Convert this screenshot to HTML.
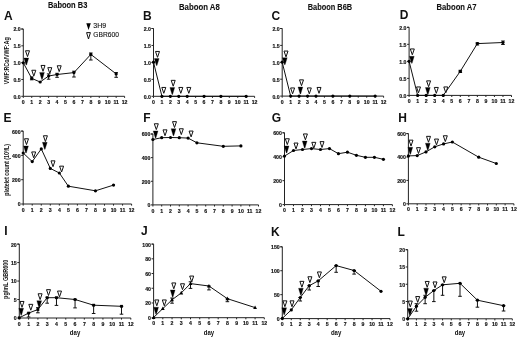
<!DOCTYPE html>
<html><head><meta charset="utf-8"><style>
html,body{margin:0;padding:0;background:#fff;}
body{width:520px;height:339px;overflow:hidden;}
svg{display:block;will-change:transform;}
text{font-family:"Liberation Sans", sans-serif;fill:#111;}
.ax{fill:none;stroke:#222;stroke-width:1.0;}
.dl{fill:none;stroke:#111;stroke-width:1.0;stroke-linejoin:round;}
.eb{fill:none;stroke:#111;stroke-width:1.0;}
.ot{fill:#fff;stroke:#111;stroke-width:1.0;stroke-linejoin:miter;}
.oi{fill:none;stroke:#555;stroke-width:0.5;}
.ft{stroke:#111;stroke-width:0.3;}
.yl{font-size:5.2px;font-weight:bold;text-anchor:end;stroke:#111;stroke-width:0.15;}
.xl{font-size:5.2px;font-weight:bold;text-anchor:middle;stroke:#111;stroke-width:0.15;}
.day{font-size:6.6px;font-weight:bold;}
.lg{font-size:7px;stroke:#111;stroke-width:0.12;}
.pl{font-size:12px;font-weight:bold;}
.ti{font-size:8.4px;font-weight:bold;stroke:#111;stroke-width:0.1;}
.ya{font-size:6.6px;font-weight:bold;}
</style></head><body>
<svg width="520" height="339" viewBox="0 0 520 339">
<path d="M23.3 29H21.3M23.3 29V96.3H124.6V97.9" class="ax"/>
<path d="M21.3 96.3H23.3M21.3 79.47H23.3M21.3 62.65H23.3M21.3 45.83H23.3M21.3 29H23.3M23.3 96.3V97.9M31.74 96.3V97.9M40.18 96.3V97.9M48.62 96.3V97.9M57.07 96.3V97.9M65.51 96.3V97.9M73.95 96.3V97.9M82.39 96.3V97.9M90.83 96.3V97.9M99.27 96.3V97.9M107.72 96.3V97.9M116.16 96.3V97.9" class="ax"/>
<text x="20.7" y="98.7" class="yl">0.0</text>
<text x="20.7" y="81.88" class="yl">0.5</text>
<text x="20.7" y="65.05" class="yl">1.0</text>
<text x="20.7" y="48.23" class="yl">1.5</text>
<text x="20.7" y="31.4" class="yl">2.0</text>
<text x="23.3" y="103.9" class="xl">0</text>
<text x="31.74" y="103.9" class="xl">1</text>
<text x="40.18" y="103.9" class="xl">2</text>
<text x="48.62" y="103.9" class="xl">3</text>
<text x="57.07" y="103.9" class="xl">4</text>
<text x="65.51" y="103.9" class="xl">5</text>
<text x="73.95" y="103.9" class="xl">6</text>
<text x="82.39" y="103.9" class="xl">7</text>
<text x="90.83" y="103.9" class="xl">8</text>
<text x="99.27" y="103.9" class="xl">9</text>
<text x="107.72" y="103.9" class="xl">10</text>
<text x="116.16" y="103.9" class="xl">11</text>
<text x="124.6" y="103.9" class="xl">12</text>
<polyline points="23.3,62.8 31.74,78.4 40.18,82 48.62,76 57.07,74.5 73.95,72.6 90.83,54.4 116.16,73.9" class="dl"/>
<path d="M31.74 76.9V79.8M29.94 79.8H33.54M29.94 76.9H33.54M48.62 73.9V79.2M46.83 79.2H50.42M46.83 73.9H50.42M57.07 73.3V77.3M55.27 77.3H58.87M55.27 73.3H58.87M73.95 71.2V77M72.15 77H75.75M72.15 71.2H75.75M90.83 53V60M89.03 60H92.63M89.03 53H92.63M116.16 72.6V77.3M114.36 77.3H117.96M114.36 72.6H117.96" class="eb"/>
<circle cx="23.3" cy="62.8" r="1.6"/>
<circle cx="31.74" cy="78.4" r="1.6"/>
<circle cx="40.18" cy="82" r="1.6"/>
<circle cx="48.62" cy="76" r="1.6"/>
<circle cx="57.07" cy="74.5" r="1.6"/>
<circle cx="73.95" cy="72.6" r="1.6"/>
<circle cx="90.83" cy="54.4" r="1.6"/>
<circle cx="116.16" cy="73.9" r="1.6"/>
<path d="M25.5 50.75H29.5L27.5 56.6Z" class="ot"/>
<path d="M31.8 70.25H35.8L33.8 76.1Z" class="ot"/>
<path d="M41 65.45H45L43 71.3Z" class="ot"/>
<path d="M47.8 67.65H51.8L49.8 73.5Z" class="ot"/>
<path d="M57.2 65.75H61.2L59.2 71.6Z" class="ot"/>
<path d="M23.9 58H28.7L26.6 65H26Z" class="ft"/>
<path d="M39.6 72.4H44.4L42.3 79.4H41.7Z" class="ft"/>
<path d="M153.5 28.5H151.5M153.5 28.5V96.3H254.6V97.9" class="ax"/>
<path d="M151.5 96.3H153.5M151.5 79.35H153.5M151.5 62.4H153.5M151.5 45.45H153.5M151.5 28.5H153.5M153.5 96.3V97.9M161.93 96.3V97.9M170.35 96.3V97.9M178.78 96.3V97.9M187.2 96.3V97.9M195.62 96.3V97.9M204.05 96.3V97.9M212.47 96.3V97.9M220.9 96.3V97.9M229.32 96.3V97.9M237.75 96.3V97.9M246.17 96.3V97.9" class="ax"/>
<text x="150.9" y="98.7" class="yl">0.0</text>
<text x="150.9" y="81.75" class="yl">0.5</text>
<text x="150.9" y="64.8" class="yl">1.0</text>
<text x="150.9" y="47.85" class="yl">1.5</text>
<text x="150.9" y="30.9" class="yl">2.0</text>
<text x="153.5" y="103.9" class="xl">0</text>
<text x="161.93" y="103.9" class="xl">1</text>
<text x="170.35" y="103.9" class="xl">2</text>
<text x="178.78" y="103.9" class="xl">3</text>
<text x="187.2" y="103.9" class="xl">4</text>
<text x="195.62" y="103.9" class="xl">5</text>
<text x="204.05" y="103.9" class="xl">6</text>
<text x="212.47" y="103.9" class="xl">7</text>
<text x="220.9" y="103.9" class="xl">8</text>
<text x="229.32" y="103.9" class="xl">9</text>
<text x="237.75" y="103.9" class="xl">10</text>
<text x="246.17" y="103.9" class="xl">11</text>
<text x="254.6" y="103.9" class="xl">12</text>
<polyline points="153.5,62.2 161.93,96.3 170.35,96.3 178.78,96.3 187.2,96.3 204.05,96.3 220.9,96.3 246.17,96.3" class="dl"/>
<circle cx="153.5" cy="62.2" r="1.6"/>
<circle cx="161.93" cy="96.3" r="1.6"/>
<circle cx="170.35" cy="96.3" r="1.6"/>
<circle cx="178.78" cy="96.3" r="1.6"/>
<circle cx="187.2" cy="96.3" r="1.6"/>
<circle cx="204.05" cy="96.3" r="1.6"/>
<circle cx="220.9" cy="96.3" r="1.6"/>
<circle cx="246.17" cy="96.3" r="1.6"/>
<path d="M155.5 51.45H159.5L157.5 57.3Z" class="ot"/>
<path d="M161.8 87.45H165.8L163.8 93.3Z" class="ot"/>
<path d="M171.2 80.35H175.2L173.2 86.2Z" class="ot"/>
<path d="M178.8 87.45H182.8L180.8 93.3Z" class="ot"/>
<path d="M186.8 87.45H190.8L188.8 93.3Z" class="ot"/>
<path d="M154.3 58.6H159.1L157 65.6H156.4Z" class="ft"/>
<path d="M169.9 87.5H174.7L172.6 94.5H172Z" class="ft"/>
<path d="M282.2 28.5H280.2M282.2 28.5V96.1H383.6V97.7" class="ax"/>
<path d="M280.2 96.1H282.2M280.2 79.2H282.2M280.2 62.3H282.2M280.2 45.4H282.2M280.2 28.5H282.2M282.2 96.1V97.7M290.65 96.1V97.7M299.1 96.1V97.7M307.55 96.1V97.7M316 96.1V97.7M324.45 96.1V97.7M332.9 96.1V97.7M341.35 96.1V97.7M349.8 96.1V97.7M358.25 96.1V97.7M366.7 96.1V97.7M375.15 96.1V97.7" class="ax"/>
<text x="279.6" y="98.5" class="yl">0.0</text>
<text x="279.6" y="81.6" class="yl">0.5</text>
<text x="279.6" y="64.7" class="yl">1.0</text>
<text x="279.6" y="47.8" class="yl">1.5</text>
<text x="279.6" y="30.9" class="yl">2.0</text>
<text x="282.2" y="103.7" class="xl">0</text>
<text x="290.65" y="103.7" class="xl">1</text>
<text x="299.1" y="103.7" class="xl">2</text>
<text x="307.55" y="103.7" class="xl">3</text>
<text x="316" y="103.7" class="xl">4</text>
<text x="324.45" y="103.7" class="xl">5</text>
<text x="332.9" y="103.7" class="xl">6</text>
<text x="341.35" y="103.7" class="xl">7</text>
<text x="349.8" y="103.7" class="xl">8</text>
<text x="358.25" y="103.7" class="xl">9</text>
<text x="366.7" y="103.7" class="xl">10</text>
<text x="375.15" y="103.7" class="xl">11</text>
<text x="383.6" y="103.7" class="xl">12</text>
<polyline points="282.2,62.2 290.65,96.1 299.1,96.1 307.55,96.1 316,96.1 332.9,96.1 349.8,96.1 375.15,96.1" class="dl"/>
<circle cx="282.2" cy="62.2" r="1.6"/>
<circle cx="290.65" cy="96.1" r="1.6"/>
<circle cx="299.1" cy="96.1" r="1.6"/>
<circle cx="307.55" cy="96.1" r="1.6"/>
<circle cx="316" cy="96.1" r="1.6"/>
<circle cx="332.9" cy="96.1" r="1.6"/>
<circle cx="349.8" cy="96.1" r="1.6"/>
<circle cx="375.15" cy="96.1" r="1.6"/>
<path d="M284 51.05H288L286 56.9Z" class="ot"/>
<path d="M290.6 87.95H294.6L292.6 93.8Z" class="ot"/>
<path d="M299.5 79.85H303.5L301.5 85.7Z" class="ot"/>
<path d="M307.3 87.95H311.3L309.3 93.8Z" class="ot"/>
<path d="M317 87.45H321L319 93.3Z" class="ot"/>
<path d="M282.4 57.7H287.2L285.1 64.7H284.5Z" class="ft"/>
<path d="M298 87H302.8L300.7 94H300.1Z" class="ft"/>
<path d="M409.1 27.3H407.1M409.1 27.3V95.4H511.5V97" class="ax"/>
<path d="M407.1 95.4H409.1M407.1 78.38H409.1M407.1 61.35H409.1M407.1 44.33H409.1M407.1 27.3H409.1M409.1 95.4V97M417.63 95.4V97M426.17 95.4V97M434.7 95.4V97M443.23 95.4V97M451.77 95.4V97M460.3 95.4V97M468.83 95.4V97M477.37 95.4V97M485.9 95.4V97M494.43 95.4V97M502.97 95.4V97" class="ax"/>
<text x="406.5" y="97.8" class="yl">0.0</text>
<text x="406.5" y="80.78" class="yl">0.5</text>
<text x="406.5" y="63.75" class="yl">1.0</text>
<text x="406.5" y="46.73" class="yl">1.5</text>
<text x="406.5" y="29.7" class="yl">2.0</text>
<text x="409.1" y="103" class="xl">0</text>
<text x="417.63" y="103" class="xl">1</text>
<text x="426.17" y="103" class="xl">2</text>
<text x="434.7" y="103" class="xl">3</text>
<text x="443.23" y="103" class="xl">4</text>
<text x="451.77" y="103" class="xl">5</text>
<text x="460.3" y="103" class="xl">6</text>
<text x="468.83" y="103" class="xl">7</text>
<text x="477.37" y="103" class="xl">8</text>
<text x="485.9" y="103" class="xl">9</text>
<text x="494.43" y="103" class="xl">10</text>
<text x="502.97" y="103" class="xl">11</text>
<text x="511.5" y="103" class="xl">12</text>
<polyline points="409.1,61.3 417.63,95.4 426.17,95.4 434.7,95.4 443.23,95.4 460.3,71.3 477.37,43.6 502.97,42.5" class="dl"/>
<path d="M460.3 70.3V72.5M458.5 72.5H462.1M458.5 70.3H462.1M477.37 42.8V45M475.57 45H479.17M475.57 42.8H479.17M502.97 41V44.5M501.17 44.5H504.77M501.17 41H504.77" class="eb"/>
<circle cx="409.1" cy="61.3" r="1.6"/>
<circle cx="417.63" cy="95.4" r="1.6"/>
<circle cx="426.17" cy="95.4" r="1.6"/>
<circle cx="434.7" cy="95.4" r="1.6"/>
<circle cx="443.23" cy="95.4" r="1.6"/>
<circle cx="460.3" cy="71.3" r="1.6"/>
<circle cx="477.37" cy="43.6" r="1.6"/>
<circle cx="502.97" cy="42.5" r="1.6"/>
<path d="M410.3 48.95H414.3L412.3 54.8Z" class="ot"/>
<path d="M416.5 86.95H420.5L418.5 92.8Z" class="ot"/>
<path d="M426.6 80.85H430.6L428.6 86.7Z" class="ot"/>
<path d="M434.3 87.45H438.3L436.3 93.3Z" class="ot"/>
<path d="M443.8 86.95H447.8L445.8 92.8Z" class="ot"/>
<path d="M409.4 56.3H414.2L412.1 63.3H411.5Z" class="ft"/>
<path d="M425.4 87.5H430.2L428.1 94.5H427.5Z" class="ft"/>
<path d="M23.2 131.1H21.2M23.2 131.1V204H131.6V205.6" class="ax"/>
<path d="M21.2 204H23.2M21.2 179.7H23.2M21.2 155.4H23.2M21.2 131.1H23.2M23.2 204V205.6M32.23 204V205.6M41.27 204V205.6M50.3 204V205.6M59.33 204V205.6M68.37 204V205.6M77.4 204V205.6M86.43 204V205.6M95.47 204V205.6M104.5 204V205.6M113.53 204V205.6M122.57 204V205.6" class="ax"/>
<text x="20.6" y="206.4" class="yl">0</text>
<text x="20.6" y="182.1" class="yl">200</text>
<text x="20.6" y="157.8" class="yl">400</text>
<text x="20.6" y="133.5" class="yl">600</text>
<text x="23.2" y="211.6" class="xl">0</text>
<text x="32.23" y="211.6" class="xl">1</text>
<text x="41.27" y="211.6" class="xl">2</text>
<text x="50.3" y="211.6" class="xl">3</text>
<text x="59.33" y="211.6" class="xl">4</text>
<text x="68.37" y="211.6" class="xl">5</text>
<text x="77.4" y="211.6" class="xl">6</text>
<text x="86.43" y="211.6" class="xl">7</text>
<text x="95.47" y="211.6" class="xl">8</text>
<text x="104.5" y="211.6" class="xl">9</text>
<text x="113.53" y="211.6" class="xl">10</text>
<text x="122.57" y="211.6" class="xl">11</text>
<text x="131.6" y="211.6" class="xl">12</text>
<polyline points="23.2,153 32.23,161.6 41.27,148.9 50.3,168.4 59.33,173 68.37,186.2 95.47,190.8 113.53,185.1" class="dl"/>
<circle cx="23.2" cy="153" r="1.6"/>
<circle cx="32.23" cy="161.6" r="1.6"/>
<circle cx="41.27" cy="148.9" r="1.6"/>
<circle cx="50.3" cy="168.4" r="1.6"/>
<circle cx="59.33" cy="173" r="1.6"/>
<circle cx="68.37" cy="186.2" r="1.6"/>
<circle cx="95.47" cy="190.8" r="1.6"/>
<circle cx="113.53" cy="185.1" r="1.6"/>
<path d="M24.5 138.75H28.5L26.5 144.6Z" class="ot"/>
<path d="M31.7 151.95H35.7L33.7 157.8Z" class="ot"/>
<path d="M43.4 135.75H47.4L45.4 141.6Z" class="ot"/>
<path d="M51 160.85H55L53 166.7Z" class="ot"/>
<path d="M59.6 166.15H63.6L61.6 172Z" class="ot"/>
<path d="M23.6 145.9H28.4L26.3 152.9H25.7Z" class="ft"/>
<path d="M42.4 142.3H47.2L45.1 149.3H44.5Z" class="ft"/>
<path d="M152.9 134H150.9M152.9 134V204.9H258.5V206.5" class="ax"/>
<path d="M150.9 204.9H152.9M150.9 181.27H152.9M150.9 157.63H152.9M150.9 134H152.9M152.9 204.9V206.5M161.7 204.9V206.5M170.5 204.9V206.5M179.3 204.9V206.5M188.1 204.9V206.5M196.9 204.9V206.5M205.7 204.9V206.5M214.5 204.9V206.5M223.3 204.9V206.5M232.1 204.9V206.5M240.9 204.9V206.5M249.7 204.9V206.5" class="ax"/>
<text x="150.3" y="207.3" class="yl">0</text>
<text x="150.3" y="183.67" class="yl">200</text>
<text x="150.3" y="160.03" class="yl">400</text>
<text x="150.3" y="136.4" class="yl">600</text>
<text x="152.9" y="212.5" class="xl">0</text>
<text x="161.7" y="212.5" class="xl">1</text>
<text x="170.5" y="212.5" class="xl">2</text>
<text x="179.3" y="212.5" class="xl">3</text>
<text x="188.1" y="212.5" class="xl">4</text>
<text x="196.9" y="212.5" class="xl">5</text>
<text x="205.7" y="212.5" class="xl">6</text>
<text x="214.5" y="212.5" class="xl">7</text>
<text x="223.3" y="212.5" class="xl">8</text>
<text x="232.1" y="212.5" class="xl">9</text>
<text x="240.9" y="212.5" class="xl">10</text>
<text x="249.7" y="212.5" class="xl">11</text>
<text x="258.5" y="212.5" class="xl">12</text>
<polyline points="152.9,139.5 161.7,137.7 170.5,137.5 179.3,137.7 188.1,138.1 196.9,142.8 223.3,146.3 240.9,145.9" class="dl"/>
<circle cx="152.9" cy="139.5" r="1.6"/>
<circle cx="161.7" cy="137.7" r="1.6"/>
<circle cx="170.5" cy="137.5" r="1.6"/>
<circle cx="179.3" cy="137.7" r="1.6"/>
<circle cx="188.1" cy="138.1" r="1.6"/>
<circle cx="196.9" cy="142.8" r="1.6"/>
<circle cx="223.3" cy="146.3" r="1.6"/>
<circle cx="240.9" cy="145.9" r="1.6"/>
<path d="M154.3 123.75H158.3L156.3 129.6Z" class="ot"/>
<path d="M163 129.85H167L165 135.7Z" class="ot"/>
<path d="M172.5 121.65H176.5L174.5 127.5Z" class="ot"/>
<path d="M179.3 128.75H183.3L181.3 134.6Z" class="ot"/>
<path d="M189.1 131.05H193.1L191.1 136.9Z" class="ot"/>
<path d="M153.2 130.9H158L155.9 137.9H155.3Z" class="ft"/>
<path d="M171.1 128.7H175.9L173.8 135.7H173.2Z" class="ft"/>
<path d="M284.5 132.8H282.5M284.5 132.8V204.6H392.4V206.2" class="ax"/>
<path d="M282.5 204.6H284.5M282.5 180.67H284.5M282.5 156.73H284.5M282.5 132.8H284.5M284.5 204.6V206.2M293.49 204.6V206.2M302.48 204.6V206.2M311.48 204.6V206.2M320.47 204.6V206.2M329.46 204.6V206.2M338.45 204.6V206.2M347.44 204.6V206.2M356.43 204.6V206.2M365.42 204.6V206.2M374.42 204.6V206.2M383.41 204.6V206.2" class="ax"/>
<text x="281.9" y="207" class="yl">0</text>
<text x="281.9" y="183.07" class="yl">200</text>
<text x="281.9" y="159.13" class="yl">400</text>
<text x="281.9" y="135.2" class="yl">600</text>
<text x="284.5" y="212.2" class="xl">0</text>
<text x="293.49" y="212.2" class="xl">1</text>
<text x="302.48" y="212.2" class="xl">2</text>
<text x="311.48" y="212.2" class="xl">3</text>
<text x="320.47" y="212.2" class="xl">4</text>
<text x="329.46" y="212.2" class="xl">5</text>
<text x="338.45" y="212.2" class="xl">6</text>
<text x="347.44" y="212.2" class="xl">7</text>
<text x="356.43" y="212.2" class="xl">8</text>
<text x="365.42" y="212.2" class="xl">9</text>
<text x="374.42" y="212.2" class="xl">10</text>
<text x="383.41" y="212.2" class="xl">11</text>
<text x="392.4" y="212.2" class="xl">12</text>
<polyline points="284.5,156.1 293.49,150.5 302.48,149.5 311.48,148.6 320.47,149.5 329.46,148.6 338.45,153.7 347.44,152.2 356.43,155.3 365.42,157.3 374.42,157.3 383.41,159.3" class="dl"/>
<circle cx="284.5" cy="156.1" r="1.6"/>
<circle cx="293.49" cy="150.5" r="1.6"/>
<circle cx="302.48" cy="149.5" r="1.6"/>
<circle cx="311.48" cy="148.6" r="1.6"/>
<circle cx="320.47" cy="149.5" r="1.6"/>
<circle cx="329.46" cy="148.6" r="1.6"/>
<circle cx="338.45" cy="153.7" r="1.6"/>
<circle cx="347.44" cy="152.2" r="1.6"/>
<circle cx="356.43" cy="155.3" r="1.6"/>
<circle cx="365.42" cy="157.3" r="1.6"/>
<circle cx="374.42" cy="157.3" r="1.6"/>
<circle cx="383.41" cy="159.3" r="1.6"/>
<path d="M285.3 138.75H289.3L287.3 144.6Z" class="ot"/>
<path d="M294 143.05H298L296 148.9Z" class="ot"/>
<path d="M303.4 133.95H307.4L305.4 139.8Z" class="ot"/>
<path d="M311.8 142.35H315.8L313.8 148.2Z" class="ot"/>
<path d="M320 141.65H324L322 147.5Z" class="ot"/>
<path d="M284.2 145.9H289L286.9 152.9H286.3Z" class="ft"/>
<path d="M302.3 141H307.1L305 148H304.4Z" class="ft"/>
<path d="M408.4 133.6H406.4M408.4 133.6V203.8H513.9V205.4" class="ax"/>
<path d="M406.4 203.8H408.4M406.4 180.4H408.4M406.4 157H408.4M406.4 133.6H408.4M408.4 203.8V205.4M417.19 203.8V205.4M425.98 203.8V205.4M434.77 203.8V205.4M443.57 203.8V205.4M452.36 203.8V205.4M461.15 203.8V205.4M469.94 203.8V205.4M478.73 203.8V205.4M487.52 203.8V205.4M496.32 203.8V205.4M505.11 203.8V205.4" class="ax"/>
<text x="405.8" y="206.2" class="yl">0</text>
<text x="405.8" y="182.8" class="yl">200</text>
<text x="405.8" y="159.4" class="yl">400</text>
<text x="405.8" y="136" class="yl">600</text>
<text x="408.4" y="211.4" class="xl">0</text>
<text x="417.19" y="211.4" class="xl">1</text>
<text x="425.98" y="211.4" class="xl">2</text>
<text x="434.77" y="211.4" class="xl">3</text>
<text x="443.57" y="211.4" class="xl">4</text>
<text x="452.36" y="211.4" class="xl">5</text>
<text x="461.15" y="211.4" class="xl">6</text>
<text x="469.94" y="211.4" class="xl">7</text>
<text x="478.73" y="211.4" class="xl">8</text>
<text x="487.52" y="211.4" class="xl">9</text>
<text x="496.32" y="211.4" class="xl">10</text>
<text x="505.11" y="211.4" class="xl">11</text>
<text x="513.9" y="211.4" class="xl">12</text>
<polyline points="408.4,155.9 417.19,155.6 425.98,151.9 434.77,146.8 443.57,143.9 452.36,142 478.73,157.2 496.32,163.5" class="dl"/>
<circle cx="408.4" cy="155.9" r="1.6"/>
<circle cx="417.19" cy="155.6" r="1.6"/>
<circle cx="425.98" cy="151.9" r="1.6"/>
<circle cx="434.77" cy="146.8" r="1.6"/>
<circle cx="443.57" cy="143.9" r="1.6"/>
<circle cx="452.36" cy="142" r="1.6"/>
<circle cx="478.73" cy="157.2" r="1.6"/>
<circle cx="496.32" cy="163.5" r="1.6"/>
<path d="M409 140.15H413L411 146Z" class="ot"/>
<path d="M416.5 147.65H420.5L418.5 153.5Z" class="ot"/>
<path d="M426.5 136.35H430.5L428.5 142.2Z" class="ot"/>
<path d="M434.5 139.05H438.5L436.5 144.9Z" class="ot"/>
<path d="M443.3 135.75H447.3L445.3 141.6Z" class="ot"/>
<path d="M407.9 147.2H412.7L410.6 154.2H410Z" class="ft"/>
<path d="M425.4 143.2H430.2L428.1 150.2H427.5Z" class="ft"/>
<path d="M19.3 244.1H17.3M19.3 244.1V318H130.8V319.6" class="ax"/>
<path d="M17.3 318H19.3M17.3 299.52H19.3M17.3 281.05H19.3M17.3 262.57H19.3M17.3 244.1H19.3M19.3 318V319.6M28.59 318V319.6M37.88 318V319.6M47.18 318V319.6M56.47 318V319.6M65.76 318V319.6M75.05 318V319.6M84.34 318V319.6M93.63 318V319.6M102.93 318V319.6M112.22 318V319.6M121.51 318V319.6" class="ax"/>
<text x="16.7" y="320.4" class="yl">0</text>
<text x="16.7" y="301.92" class="yl">5</text>
<text x="16.7" y="283.45" class="yl">10</text>
<text x="16.7" y="264.97" class="yl">15</text>
<text x="16.7" y="246.5" class="yl">20</text>
<text x="19.3" y="325.6" class="xl">0</text>
<text x="28.59" y="325.6" class="xl">1</text>
<text x="37.88" y="325.6" class="xl">2</text>
<text x="47.18" y="325.6" class="xl">3</text>
<text x="56.47" y="325.6" class="xl">4</text>
<text x="65.76" y="325.6" class="xl">5</text>
<text x="75.05" y="325.6" class="xl">6</text>
<text x="84.34" y="325.6" class="xl">7</text>
<text x="93.63" y="325.6" class="xl">8</text>
<text x="102.93" y="325.6" class="xl">9</text>
<text x="112.22" y="325.6" class="xl">10</text>
<text x="121.51" y="325.6" class="xl">11</text>
<text x="130.8" y="325.6" class="xl">12</text>
<polyline points="19.3,317.8 28.59,313.1 37.88,309.5 47.18,297.7 56.47,297.7 75.05,299.5 93.63,305.2 121.51,306.3" class="dl"/>
<path d="M28.59 313.1V317M26.79 317H30.39M26.79 313.1H30.39M37.88 307.6V312.8M36.08 312.8H39.68M36.08 307.6H39.68M47.18 297.3V303.2M45.38 303.2H48.98M45.38 297.3H48.98M56.47 297.3V305.4M54.67 305.4H58.27M54.67 297.3H58.27M75.05 299.5V307.9M73.25 307.9H76.85M73.25 299.5H76.85M93.63 305.2V313.5M91.83 313.5H95.43M91.83 305.2H95.43M121.51 306.3V314.2M119.71 314.2H123.31M119.71 306.3H123.31" class="eb"/>
<rect x="17.9" y="316.4" width="2.8" height="2.8"/>
<rect x="27.19" y="311.7" width="2.8" height="2.8"/>
<rect x="36.48" y="308.1" width="2.8" height="2.8"/>
<rect x="45.78" y="296.3" width="2.8" height="2.8"/>
<rect x="55.07" y="296.3" width="2.8" height="2.8"/>
<rect x="73.65" y="298.1" width="2.8" height="2.8"/>
<rect x="92.23" y="303.8" width="2.8" height="2.8"/>
<rect x="120.11" y="304.9" width="2.8" height="2.8"/>
<path d="M20 301.45H24L22 307.3Z" class="ot"/>
<path d="M28.8 304.35H32.8L30.8 310.2Z" class="ot"/>
<path d="M38.1 293.75H42.1L40.1 299.6Z" class="ot"/>
<path d="M46.5 289.65H50.5L48.5 295.5Z" class="ot"/>
<path d="M57.5 291.05H61.5L59.5 296.9Z" class="ot"/>
<path d="M18.8 308.3H23.6L21.5 315.3H20.9Z" class="ft"/>
<path d="M36.8 300.7H41.6L39.5 307.7H38.9Z" class="ft"/>
<text x="69.85" y="334.6" class="day" textLength="10.4" lengthAdjust="spacingAndGlyphs">day</text>
<path d="M153.6 244.1H151.6M153.6 244.1V317.7H264.3V319.3" class="ax"/>
<path d="M151.6 317.7H153.6M151.6 302.98H153.6M151.6 288.26H153.6M151.6 273.54H153.6M151.6 258.82H153.6M151.6 244.1H153.6M153.6 317.7V319.3M162.82 317.7V319.3M172.05 317.7V319.3M181.28 317.7V319.3M190.5 317.7V319.3M199.72 317.7V319.3M208.95 317.7V319.3M218.18 317.7V319.3M227.4 317.7V319.3M236.62 317.7V319.3M245.85 317.7V319.3M255.08 317.7V319.3" class="ax"/>
<text x="151" y="320.1" class="yl">0</text>
<text x="151" y="305.38" class="yl">20</text>
<text x="151" y="290.66" class="yl">40</text>
<text x="151" y="275.94" class="yl">60</text>
<text x="151" y="261.22" class="yl">80</text>
<text x="151" y="246.5" class="yl">100</text>
<text x="153.6" y="325.3" class="xl">0</text>
<text x="162.82" y="325.3" class="xl">1</text>
<text x="172.05" y="325.3" class="xl">2</text>
<text x="181.28" y="325.3" class="xl">3</text>
<text x="190.5" y="325.3" class="xl">4</text>
<text x="199.72" y="325.3" class="xl">5</text>
<text x="208.95" y="325.3" class="xl">6</text>
<text x="218.18" y="325.3" class="xl">7</text>
<text x="227.4" y="325.3" class="xl">8</text>
<text x="236.62" y="325.3" class="xl">9</text>
<text x="245.85" y="325.3" class="xl">10</text>
<text x="255.08" y="325.3" class="xl">11</text>
<text x="264.3" y="325.3" class="xl">12</text>
<polyline points="153.6,317.5 162.82,308.6 172.05,299.8 181.28,292.9 190.5,283.6 208.95,286 227.4,298.7 255.08,307.6" class="dl"/>
<path d="M172.05 298V303.2M170.25 303.2H173.85M170.25 298H173.85M190.5 281.8V288.4M188.7 288.4H192.3M188.7 281.8H192.3M208.95 286V289.9M207.15 289.9H210.75M207.15 286H210.75M227.4 298.7V301.7M225.6 301.7H229.2M225.6 298.7H229.2" class="eb"/>
<path d="M153.6 315.4L155.5 319H151.7Z"/>
<path d="M162.82 306.5L164.72 310.1H160.92Z"/>
<path d="M172.05 297.7L173.95 301.3H170.15Z"/>
<path d="M181.28 290.8L183.18 294.4H179.38Z"/>
<path d="M190.5 281.5L192.4 285.1H188.6Z"/>
<path d="M208.95 283.9L210.85 287.5H207.05Z"/>
<path d="M227.4 296.6L229.3 300.2H225.5Z"/>
<path d="M255.08 305.5L256.98 309.1H253.18Z"/>
<path d="M154.8 299.95H158.8L156.8 305.8Z" class="ot"/>
<path d="M162.3 299.95H166.3L164.3 305.8Z" class="ot"/>
<path d="M171.8 282.95H175.8L173.8 288.8Z" class="ot"/>
<path d="M180.5 283.75H184.5L182.5 289.6Z" class="ot"/>
<path d="M189.7 276.05H193.7L191.7 281.9Z" class="ot"/>
<path d="M153.7 307.2H158.5L156.4 314.2H155.8Z" class="ft"/>
<path d="M170.3 289.9H175.1L173 296.9H172.4Z" class="ft"/>
<text x="203.75" y="334.6" class="day" textLength="10.4" lengthAdjust="spacingAndGlyphs">day</text>
<path d="M282.3 246.8H280.3M282.3 246.8V318.6H390V320.2" class="ax"/>
<path d="M280.3 318.6H282.3M280.3 294.67H282.3M280.3 270.73H282.3M280.3 246.8H282.3M282.3 318.6V320.2M291.28 318.6V320.2M300.25 318.6V320.2M309.23 318.6V320.2M318.2 318.6V320.2M327.18 318.6V320.2M336.15 318.6V320.2M345.12 318.6V320.2M354.1 318.6V320.2M363.07 318.6V320.2M372.05 318.6V320.2M381.02 318.6V320.2" class="ax"/>
<text x="279.7" y="321" class="yl">0</text>
<text x="279.7" y="297.07" class="yl">50</text>
<text x="279.7" y="273.13" class="yl">100</text>
<text x="279.7" y="249.2" class="yl">150</text>
<text x="282.3" y="326.2" class="xl">0</text>
<text x="291.28" y="326.2" class="xl">1</text>
<text x="300.25" y="326.2" class="xl">2</text>
<text x="309.23" y="326.2" class="xl">3</text>
<text x="318.2" y="326.2" class="xl">4</text>
<text x="327.18" y="326.2" class="xl">5</text>
<text x="336.15" y="326.2" class="xl">6</text>
<text x="345.12" y="326.2" class="xl">7</text>
<text x="354.1" y="326.2" class="xl">8</text>
<text x="363.07" y="326.2" class="xl">9</text>
<text x="372.05" y="326.2" class="xl">10</text>
<text x="381.02" y="326.2" class="xl">11</text>
<text x="390" y="326.2" class="xl">12</text>
<polyline points="282.3,318.4 291.28,309.9 300.25,297.5 309.23,285.7 318.2,280.9 336.15,265.6 354.1,270.5 381.02,291.3" class="dl"/>
<path d="M300.25 297.5V301M298.45 301H302.05M298.45 297.5H302.05M309.23 285.7V290M307.43 290H311.03M307.43 285.7H311.03M318.2 280.9V286.5M316.4 286.5H320M316.4 280.9H320M336.15 265.6V272.3M334.35 272.3H337.95M334.35 265.6H337.95M354.1 270.5V274.1M352.3 274.1H355.9M352.3 270.5H355.9" class="eb"/>
<circle cx="282.3" cy="318.4" r="1.6"/>
<circle cx="291.28" cy="309.9" r="1.6"/>
<circle cx="300.25" cy="297.5" r="1.6"/>
<circle cx="309.23" cy="285.7" r="1.6"/>
<circle cx="318.2" cy="280.9" r="1.6"/>
<circle cx="336.15" cy="265.6" r="1.6"/>
<circle cx="354.1" cy="270.5" r="1.6"/>
<circle cx="381.02" cy="291.3" r="1.6"/>
<path d="M282.9 300.85H286.9L284.9 306.7Z" class="ot"/>
<path d="M290 300.85H294L292 306.7Z" class="ot"/>
<path d="M299.9 281.35H303.9L301.9 287.2Z" class="ot"/>
<path d="M307.9 276.75H311.9L309.9 282.6Z" class="ot"/>
<path d="M317.4 271.95H321.4L319.4 277.8Z" class="ot"/>
<path d="M281.8 307.8H286.6L284.5 314.8H283.9Z" class="ft"/>
<path d="M298.5 288.3H303.3L301.2 295.3H300.6Z" class="ft"/>
<text x="330.95" y="334.6" class="day" textLength="10.4" lengthAdjust="spacingAndGlyphs">day</text>
<path d="M407.7 249.7H405.7M407.7 249.7V318.8H512.3V320.4" class="ax"/>
<path d="M405.7 318.8H407.7M405.7 301.52H407.7M405.7 284.25H407.7M405.7 266.97H407.7M405.7 249.7H407.7M407.7 318.8V320.4M416.42 318.8V320.4M425.13 318.8V320.4M433.85 318.8V320.4M442.57 318.8V320.4M451.28 318.8V320.4M460 318.8V320.4M468.72 318.8V320.4M477.43 318.8V320.4M486.15 318.8V320.4M494.87 318.8V320.4M503.58 318.8V320.4" class="ax"/>
<text x="405.1" y="321.2" class="yl">0</text>
<text x="405.1" y="303.92" class="yl">5</text>
<text x="405.1" y="286.65" class="yl">10</text>
<text x="405.1" y="269.37" class="yl">15</text>
<text x="405.1" y="252.1" class="yl">20</text>
<text x="407.7" y="326.4" class="xl">0</text>
<text x="416.42" y="326.4" class="xl">1</text>
<text x="425.13" y="326.4" class="xl">2</text>
<text x="433.85" y="326.4" class="xl">3</text>
<text x="442.57" y="326.4" class="xl">4</text>
<text x="451.28" y="326.4" class="xl">5</text>
<text x="460" y="326.4" class="xl">6</text>
<text x="468.72" y="326.4" class="xl">7</text>
<text x="477.43" y="326.4" class="xl">8</text>
<text x="486.15" y="326.4" class="xl">9</text>
<text x="494.87" y="326.4" class="xl">10</text>
<text x="503.58" y="326.4" class="xl">11</text>
<text x="512.3" y="326.4" class="xl">12</text>
<polyline points="407.7,318.8 416.42,306.2 425.13,297.3 433.85,290.5 442.57,284.8 460,283.3 477.43,300.2 503.58,305.7" class="dl"/>
<path d="M416.42 303.7V311.2M414.62 311.2H418.22M414.62 303.7H418.22M425.13 295.3V303.7M423.33 303.7H426.93M423.33 295.3H426.93M433.85 290.5V301.6M432.05 301.6H435.65M432.05 290.5H435.65M442.57 284.8V295.3M440.77 295.3H444.37M440.77 284.8H444.37M460 283.3V296.3M458.2 296.3H461.8M458.2 283.3H461.8M477.43 300.2V307.2M475.63 307.2H479.23M475.63 300.2H479.23M503.58 305.7V311M501.78 311H505.38M501.78 305.7H505.38" class="eb"/>
<circle cx="407.7" cy="318.8" r="1.6"/>
<circle cx="416.42" cy="306.2" r="1.6"/>
<circle cx="425.13" cy="297.3" r="1.6"/>
<circle cx="433.85" cy="290.5" r="1.6"/>
<circle cx="442.57" cy="284.8" r="1.6"/>
<circle cx="460" cy="283.3" r="1.6"/>
<circle cx="477.43" cy="300.2" r="1.6"/>
<circle cx="503.58" cy="305.7" r="1.6"/>
<path d="M408.3 301.05H412.3L410.3 306.9Z" class="ot"/>
<path d="M415.7 296.55H419.7L417.7 302.4Z" class="ot"/>
<path d="M425.2 281.45H429.2L427.2 287.3Z" class="ot"/>
<path d="M433 281.95H437L435 287.8Z" class="ot"/>
<path d="M442.2 276.85H446.2L444.2 282.7Z" class="ot"/>
<path d="M407.5 308.4H412.3L410.2 315.4H409.6Z" class="ft"/>
<path d="M423.7 288.2H428.5L426.4 295.2H425.8Z" class="ft"/>
<text x="454.8" y="334.6" class="day" textLength="10.4" lengthAdjust="spacingAndGlyphs">day</text>
<path d="M86.3 23.2H90.8L88.55 29.9Z"/>
<path d="M86.6 32.6H90.4L88.5 39Z" class="ot"/>
<text x="93.3" y="28.1" class="lg">3H9</text>
<text x="93.3" y="37.3" class="lg" textLength="25.6" lengthAdjust="spacingAndGlyphs">GBR600</text>
<text x="3.9" y="19.5" class="pl">A</text>
<text x="143" y="19.5" class="pl">B</text>
<text x="271.6" y="19.6" class="pl">C</text>
<text x="399.7" y="19.4" class="pl">D</text>
<text x="3.4" y="121.6" class="pl">E</text>
<text x="143.2" y="121.6" class="pl">F</text>
<text x="271.8" y="121.8" class="pl">G</text>
<text x="398.2" y="121.6" class="pl">H</text>
<text x="4.3" y="235.4" class="pl">I</text>
<text x="140.9" y="235.4" class="pl">J</text>
<text x="271.1" y="235.7" class="pl">K</text>
<text x="397.4" y="235.7" class="pl">L</text>
<text x="47.9" y="7.9" class="ti" textLength="39.4" lengthAdjust="spacingAndGlyphs">Baboon B3</text>
<text x="179" y="9.6" class="ti" textLength="40.7" lengthAdjust="spacingAndGlyphs">Baboon A8</text>
<text x="307.7" y="10.4" class="ti" textLength="44.4" lengthAdjust="spacingAndGlyphs">Baboon B6B</text>
<text x="436.5" y="10.1" class="ti" textLength="40.1" lengthAdjust="spacingAndGlyphs">Baboon A7</text>
<text transform="translate(8.8 60.75) rotate(-90)" x="-23.45" y="0" class="ya" textLength="46.9" lengthAdjust="spacingAndGlyphs">VWF:RCo/VWF:Ag</text>
<text transform="translate(8.5 169.85) rotate(-90)" x="-25.95" y="0" class="ya" textLength="51.9" lengthAdjust="spacingAndGlyphs">platelet count (10<tspan font-size="3.6" dy="-1.8">9</tspan><tspan dy="1.8">/L)</tspan></text>
<text transform="translate(8.2 279.3) rotate(-90)" x="-19.6" y="0" class="ya" textLength="39.2" lengthAdjust="spacingAndGlyphs">pg/mL GBR600</text>
</svg>
</body></html>
